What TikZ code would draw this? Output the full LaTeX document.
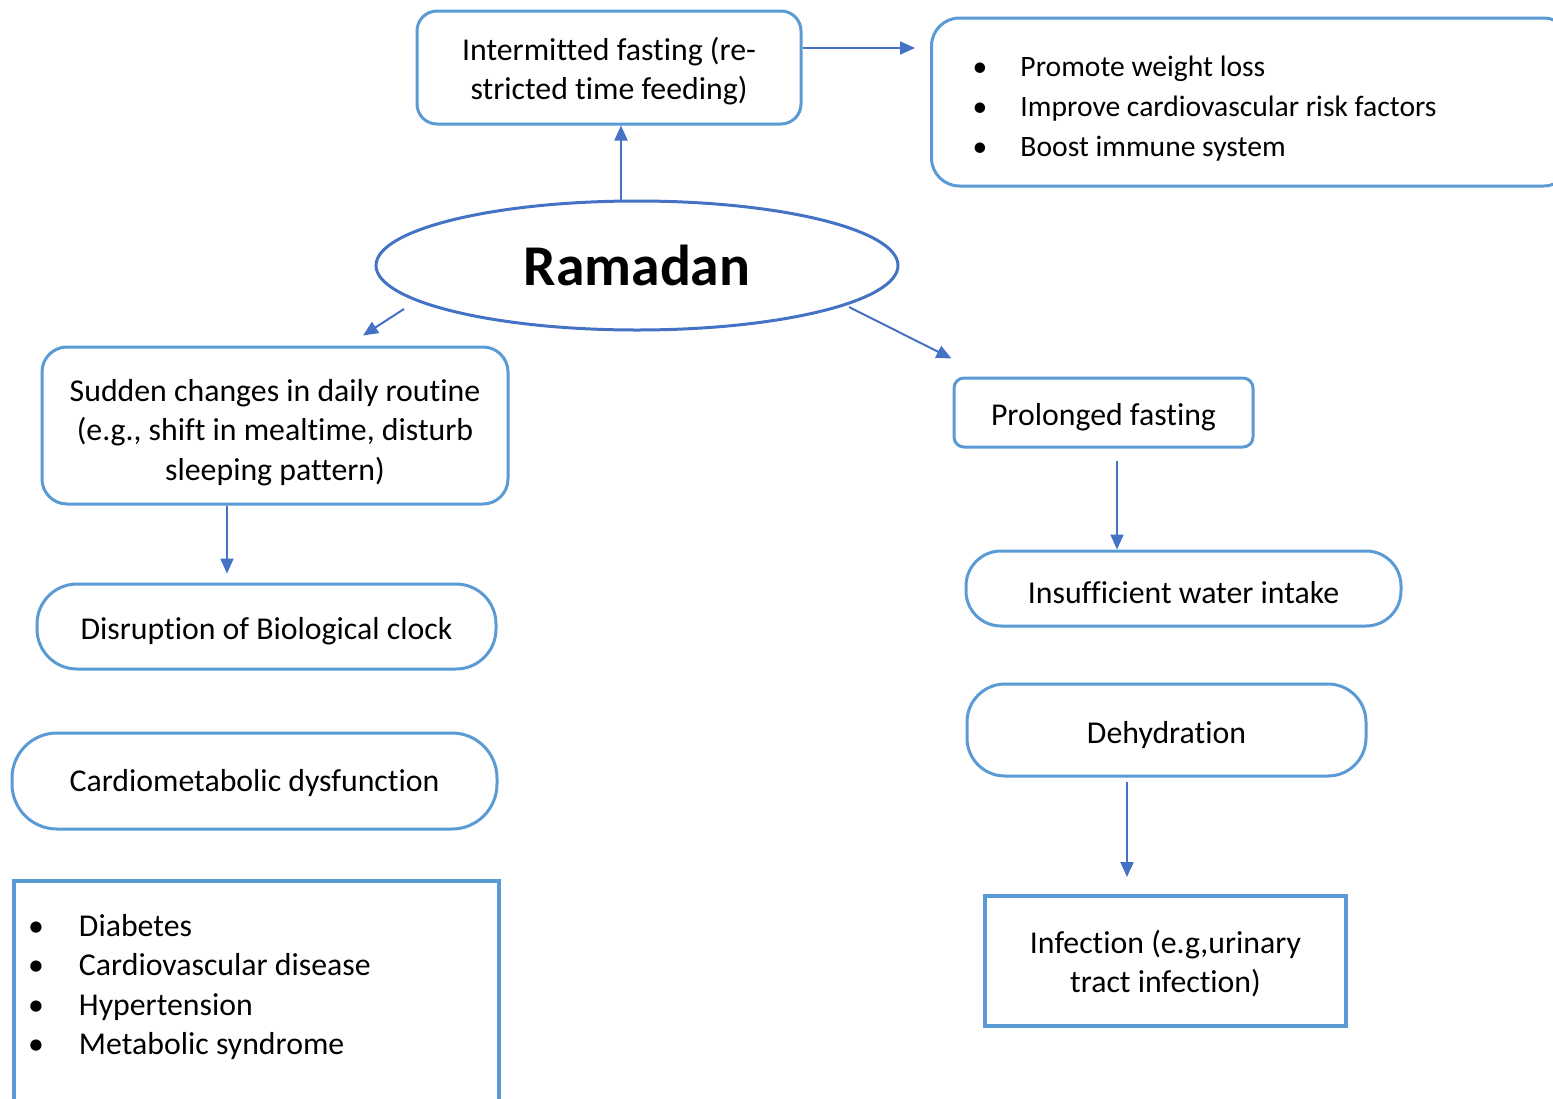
\documentclass[tikz,border=0pt]{standalone}
\usepackage{fontspec}
\setmainfont{Carlito}[Ligatures=NoCommon]
\usetikzlibrary{arrows.meta,shapes.geometric,calc}
\definecolor{boxblue}{HTML}{5B9BD5}
\definecolor{arrblue}{HTML}{4472C4}
\newcommand{\bitem}[2]{\makebox[#1][l]{•}#2}
\begin{document}
\begin{tikzpicture}[x=1pt,y=-1pt,
  every node/.style={font=\fontsize{31.8}{39.5}\selectfont, text=black},
  rbox/.style={draw=boxblue, line width=3pt, rectangle, inner sep=0pt, align=center},
  one/.style={text height=25pt, text depth=4pt},
  sbox/.style={draw=boxblue, line width=4pt, rectangle},
  arr/.style={draw=arrblue, line width=2pt, -{Triangle[length=15pt,width=13pt]}},
]
\fill[white] (0,0) rectangle (1553,1098);
\useasboundingbox (0,0) rectangle (1553,1098);

\node[rbox, rounded corners=20pt, minimum width=384pt, minimum height=113pt] (inter) at (609,67.5) {\rule{0pt}{30pt}Intermitted fasting (re-\\stricted time feeding)};

\node[rbox, rounded corners=28pt, minimum height=168pt, anchor=west, align=flush left, inner xsep=41pt, text width=558pt, font=\fontsize{29.6}{40}\selectfont] (ben) at (930,102) {\rule{0pt}{34pt}\bitem{48pt}{Promote weight loss}\\\bitem{48pt}{Improve cardiovascular risk factors}\\\bitem{48pt}{Boost immune system}};

\node[draw=arrblue, line width=3pt, ellipse, minimum width=522pt, minimum height=129pt, inner sep=0pt, font=\fontsize{57.7}{60}\selectfont\bfseries] (ram) at (637,265.5) {Ramadan};

\node[rbox, rounded corners=25pt, minimum width=466pt, minimum height=157pt] (sud) at (275,425.5) {\rule{0pt}{36pt}Sudden changes in daily routine\\(e.g., shift in mealtime, disturb\\sleeping pattern)};

\node[rbox, one, text height=29pt, rounded corners=40pt, minimum width=459pt, minimum height=85pt] (disr) at (266.5,626.5) {Disruption of Biological clock};

\node[rbox, one, rounded corners=45pt, minimum width=485pt, minimum height=96pt] (card) at (254.5,781) {Cardiometabolic dysfunction};

\node[sbox, anchor=north west, inner xsep=14pt, inner ysep=33pt, text width=457pt, align=flush left] (cml) at (12,879) {\bitem{51pt}{Diabetes}\\\bitem{51pt}{Cardiovascular disease}\\\bitem{51pt}{Hypertension}\\\bitem{51pt}{Metabolic syndrome}\\ ~};

\node[rbox, one, text height=29pt, rounded corners=10pt, minimum width=299pt, minimum height=69pt] (prol) at (1103.5,412.5) {Prolonged fasting};

\node[rbox, one, text height=34pt, rounded corners=35pt, minimum width=435pt, minimum height=75pt] (ins) at (1183.5,588.5) {Insufficient water intake};

\node[rbox, one, text height=31pt, rounded corners=38pt, minimum width=399pt, minimum height=92pt] (deh) at (1166.5,730) {Dehydration};

\node[sbox, inner sep=0pt, align=center, minimum width=361pt, minimum height=130pt] (inf) at (1165.5,961) {\rule{0pt}{28pt}Infection (e.g,urinary\\tract infection)};

\draw[arr] ([xshift=-16pt]ram.north) -- ([xshift=12pt]inter.south);
\draw[arr, shorten >=15pt] ([yshift=19.5pt]inter.east) -- ([yshift=19.5pt]inter.east -| ben.west);
\draw[arr] ([shift={(-233pt,-43.5pt)}]ram.center) -- ([shift={(88pt,10pt)}]sud.north);
\draw[arr] ([shift={(212pt,-41.5pt)}]ram.center) -- ([shift={(-1pt,18pt)}]prol.north west);
\draw[arr, shorten >=9pt] ([xshift=-48pt]sud.south) -- ([xshift=-48pt]sud.south |- disr.north);
\draw[arr, shorten <=12pt] ([xshift=13.5pt]prol.south) -- ([xshift=13.5pt]prol.south |- ins.north);
\draw[arr, shorten <=4pt, shorten >=17pt] ([xshift=-39.5pt]deh.south) -- ([xshift=-39.5pt]deh.south |- inf.north);
\end{tikzpicture}
\end{document}
